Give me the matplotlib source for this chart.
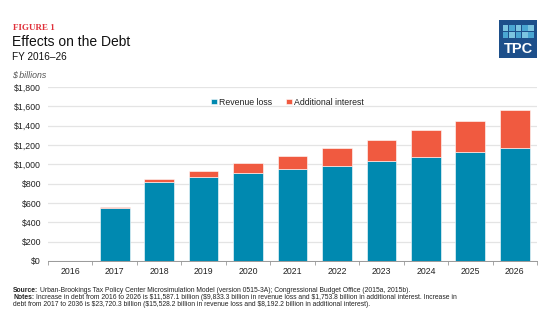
import numpy as np
import matplotlib
matplotlib.use("Agg")
import matplotlib.pyplot as plt
from matplotlib.patches import Rectangle

plt.rcParams['font.family'] = ['Liberation Sans', 'DejaVu Sans']

# -------- Data ($ billions) ----------
years = ["2016", "2017", "2018", "2019", "2020", "2021", "2022", "2023", "2024", "2025", "2026"]
revenue_loss = [2, 544, 819, 872, 912, 950, 988, 1033, 1081, 1126, 1170]
additional_interest = [2, 10, 28, 64, 97, 134, 179, 223, 272, 323, 389]
y_ticks = [0, 200, 400, 600, 800, 1000, 1200, 1400, 1600, 1800]

BLUE = "#0089b0"
RED = "#f05a40"
GRID = "#e4e4e4"
TEXT = "#222222"
NOTE_SIZE = 4.9

fig = plt.figure(figsize=(5.5, 3.26), dpi=100)
ax = fig.add_axes([0.0873, 0.1994, 0.8891, 0.5336])

x = np.arange(len(years))
ax.bar(x, revenue_loss, width=0.67, color=BLUE, edgecolor="white", linewidth=0.4,
       label="Revenue loss", zorder=3)
ax.bar(x, additional_interest, width=0.67, bottom=revenue_loss, color=RED,
       edgecolor="white", linewidth=0.4, label="Additional interest", zorder=3)

ax.set_xlim(-0.5, len(years) - 0.5)
ax.set_ylim(0, 1800)
ax.set_yticks(y_ticks)
ax.set_yticklabels([f"${v:,}" for v in y_ticks])
ax.yaxis.grid(True, color=GRID, linewidth=0.9, zorder=0)
ax.tick_params(axis="y", length=0, labelsize=6.3, colors=TEXT, pad=5)

# category labels centred, tick marks on category boundaries
ax.set_xticks(x)
ax.set_xticklabels(years)
ax.tick_params(axis="x", length=0, labelsize=6.3, colors=TEXT, pad=4)
ax.set_xticks(np.arange(-0.5, len(years)), minor=True)
ax.tick_params(axis="x", which="minor", length=3, color="#999999", width=0.6, direction="out")

for s in ["top", "right", "left"]:
    ax.spines[s].set_visible(False)
ax.spines["bottom"].set_color("#999999")
ax.spines["bottom"].set_linewidth(0.7)

leg = ax.legend(loc="upper center", bbox_to_anchor=(0.49, 0.985), ncol=2, frameon=False,
                fontsize=6.3, handlelength=0.6, handleheight=0.6, handletextpad=0.3,
                columnspacing=1.6)
for t in leg.get_texts():
    t.set_color(TEXT)

# headings
fig.text(0.024, 0.913, "FIGURE 1", fontsize=6.5, color="#e0303a", fontweight="bold",
         family="Liberation Serif", va="center")
fig.text(0.022, 0.872, "Effects on the Debt", fontsize=10, color="#111111", va="center")
fig.text(0.022, 0.826, "FY 2016\u201326", fontsize=7.2, color="#111111", va="center")
fig.text(0.022, 0.771, "$ billions", fontsize=6.3, color="#555555", style="italic", va="center")

# TPC logo
lx, ly, lw, lh = 0.9075, 0.822, 0.069, 0.117
fig.patches.append(Rectangle((lx, ly), lw, lh, transform=fig.transFigure,
                             facecolor="#1d4f8a", edgecolor="none"))
cols, rows = 5, 2
cw, ch = 0.0104, 0.019
gx = lx + 0.0065
for r in range(rows):
    for c in range(cols):
        shade = "#7cc4e0" if (r + c) % 2 == 0 else "#4aa6d2"
        fig.patches.append(Rectangle((gx + c * (cw + 0.0013), ly + lh - 0.012 - (r + 1) * (ch + 0.003)),
                                     cw, ch, transform=fig.transFigure,
                                     facecolor=shade, edgecolor="none"))
fig.text(lx + lw / 2, ly + 0.028, "TPC", fontsize=10.5, color="white", fontweight="bold",
         ha="center", va="center")

# source and notes: bold lead-in, then plain text placed right after it
renderer = fig.canvas.get_renderer()


def note_line(y, lead, body):
    x0 = 0.024
    if lead:
        t = fig.text(x0, y, lead, fontsize=NOTE_SIZE, color=TEXT, fontweight="bold", va="center")
        bb = t.get_window_extent(renderer=renderer)
        x0 = bb.x1 / fig.bbox.width + 0.003
    fig.text(x0, y, body, fontsize=NOTE_SIZE, color=TEXT, va="center")


note_line(0.110, "Source:", "Urban-Brookings Tax Policy Center Microsimulation Model (version 0515-3A); "
          "Congressional Budget Office (2015a, 2015b).")
note_line(0.088, "Notes:", "Increase in debt from 2016 to 2026 is $11,587.1 billion ($9,833.3 billion in revenue loss "
          "and $1,753.8 billion in additional interest. Increase in")
note_line(0.065, "", "debt from 2017 to 2036 is $23,720.3 billion ($15,528.2 billion in revenue loss and "
          "$8,192.2 billion in additional interest).")

fig.savefig("out.png", dpi=100)
